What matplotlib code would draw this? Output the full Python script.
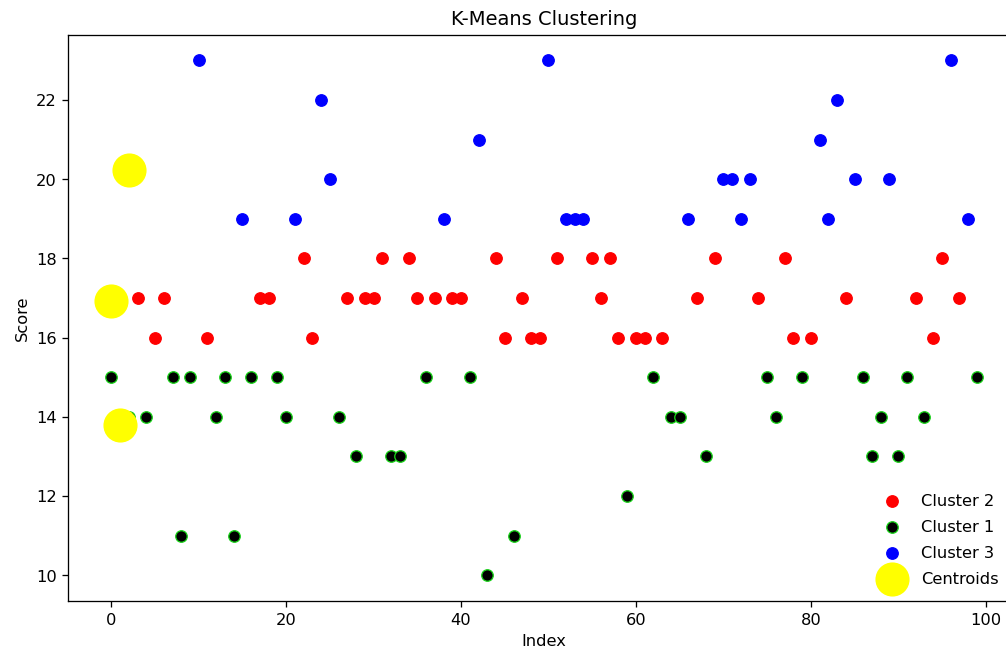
import numpy as np
import matplotlib
matplotlib.use("Agg")
import matplotlib.pyplot as plt

# score per row index (0..99)
scores = [15, 14, 14, 17, 14, 16, 17, 15, 11, 15,
          23, 16, 14, 15, 11, 19, 15, 17, 17, 15,
          14, 19, 18, 16, 22, 20, 14, 17, 13, 17,
          17, 18, 13, 13, 18, 17, 15, 17, 19, 17,
          17, 15, 21, 10, 18, 16, 11, 17, 16, 16,
          23, 18, 19, 19, 19, 18, 17, 18, 16, 12,
          16, 16, 15, 16, 14, 14, 19, 17, 13, 18,
          20, 20, 19, 20, 17, 15, 14, 18, 16, 15,
          16, 21, 19, 22, 17, 20, 15, 13, 14, 20,
          13, 15, 17, 14, 16, 18, 23, 17, 19, 15]

# cluster label per row
clusters = [1, 1, 1, 2, 1, 2, 2, 1, 1, 1,
            3, 2, 1, 1, 1, 3, 1, 2, 2, 1,
            1, 3, 2, 2, 3, 3, 1, 2, 1, 2,
            2, 2, 1, 1, 2, 2, 1, 2, 3, 2,
            2, 1, 3, 1, 2, 2, 1, 2, 2, 2,
            3, 2, 3, 3, 3, 2, 2, 2, 2, 1,
            2, 2, 1, 2, 1, 1, 3, 2, 1, 2,
            3, 3, 3, 3, 2, 1, 1, 2, 2, 1,
            2, 3, 3, 3, 2, 3, 1, 1, 1, 3,
            1, 1, 2, 1, 2, 2, 3, 2, 3, 1]

centroid_x = [0, 1, 2]
centroid_y = [16.93, 13.8, 20.22]

cluster_order = [2, 1, 3]
cluster_face = {2: 'red', 1: 'black', 3: 'blue'}
cluster_edge = {2: 'red', 1: '#19d219', 3: 'blue'}

idx = np.arange(len(scores))
scores = np.array(scores)
clusters = np.array(clusters)

fig = plt.figure(figsize=(8.6, 5.585), dpi=117)
ax = fig.add_axes([68 / 1006, 52 / 653, 952 / 1006, 566 / 653])

for c in cluster_order:
    m = clusters == c
    ax.scatter(idx[m], scores[m], s=50, c=cluster_face[c],
               edgecolors=cluster_edge[c], linewidths=0.8,
               label=f'Cluster {c}')

ax.scatter(centroid_x, centroid_y, s=400, c='yellow', label='Centroids')

ax.set_title('K-Means Clustering')
ax.set_xlabel('Index')
ax.set_ylabel('Score')
ax.legend(loc='lower right', bbox_to_anchor=(0.993, 0.0), frameon=False,
          labelspacing=0.68)

fig.savefig('out.png', dpi=117)
